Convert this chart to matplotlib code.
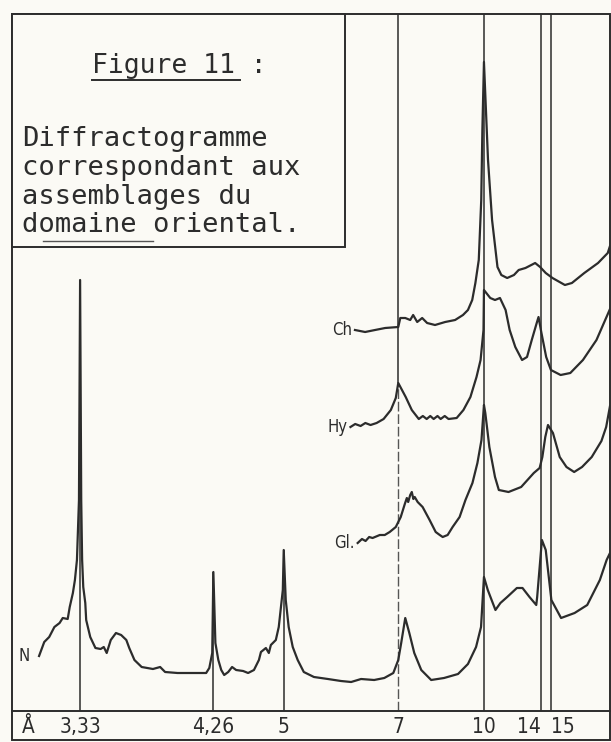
import numpy as np
import matplotlib
matplotlib.use("Agg")
import matplotlib.pyplot as plt
from matplotlib import font_manager, transforms
from matplotlib.patches import Rectangle
from matplotlib.lines import Line2D

W, H = 611, 742
PAPER = "#fbfaf5"
INK = "#2c2c2c"
WAVELENGTH = 1.5406  # Cu K-alpha, Angstrom

# reflections marked under the chart (Angstrom)
d_marks = [3.33, 4.26, 5, 7, 10, 14, 15]
d_labels = ["3,33", "4,26", "5", "7", "10", "14", "15"]
full_height = [False, False, False, True, True, True, True]

# diffractograms: 2-theta (deg) / intensity (arbitrary units, traces stacked)
n_theta = [28.57, 28.34, 28.12, 27.89, 27.66, 27.52, 27.30, 27.21, 27.07, 26.98, 26.89, 26.80,
           26.75, 26.70, 26.66, 26.61, 26.52, 26.48, 26.30, 26.07, 25.84, 25.70, 25.57, 25.39,
           25.16, 24.93, 24.70, 24.57, 24.34, 24.02, 23.52, 23.20, 22.98, 22.43, 21.70, 21.16,
           21.02, 20.89, 20.84, 20.75, 20.62, 20.49, 20.36, 20.18, 20.01, 19.83, 19.52, 19.30,
           19.04, 18.82, 18.73, 18.51, 18.38, 18.29, 18.07, 17.94, 17.76, 17.72, 17.63, 17.50,
           17.32, 17.10, 16.83, 16.38, 15.76, 15.18, 14.73, 14.29, 13.71, 13.26, 12.86, 12.64,
           12.51, 12.33, 12.15, 11.93, 11.62, 11.18, 10.61, 9.99, 9.55, 9.19, 8.97, 8.84,
           8.67, 8.33, 8.11, 7.81, 7.38, 7.13, 6.82, 6.52, 6.48, 6.27, 6.10, 5.85,
           5.42, 4.82, 4.26, 3.70, 3.40, 3.25]
n_int = [55, 69, 74, 84, 88, 93, 92, 104, 118, 131, 151, 211,
         431, 211, 151, 124, 108, 91, 74, 63, 62, 64, 58, 71,
         78, 76, 71, 63, 51, 44, 42, 44, 39, 38, 38, 38,
         43, 58, 139, 68, 51, 41, 36, 39, 44, 41, 40, 38,
         41, 51, 59, 63, 58, 66, 71, 84, 121, 161, 111, 84,
         64, 51, 39, 34, 32, 30, 29, 32, 31, 33, 38, 51,
         68, 93, 78, 58, 41, 31, 33, 37, 47, 64, 84, 134,
         121, 101, 108, 114, 123, 123, 114, 106, 114, 171, 161, 111,
         93, 98, 106, 131, 151, 158]

gl_theta = [14.44, 14.25, 14.09, 13.93, 13.78, 13.46, 13.24, 13.02, 12.75, 12.53, 12.35, 12.26,
            12.20, 12.11, 12.04, 11.97, 11.91, 11.78, 11.56, 11.25, 10.98, 10.80, 10.67, 10.45,
            10.23, 9.92, 9.66, 9.35, 9.13, 8.95, 8.84, 8.78, 8.60, 8.35, 8.18, 7.75,
            7.19, 6.63, 6.37, 6.25, 6.12, 6.00, 5.78, 5.48, 5.18, 4.84, 4.49, 4.06,
            3.63, 3.42, 3.25]
gl_int = [168, 172, 170, 174, 173, 176, 176, 179, 184, 194, 207, 213,
          209, 216, 219, 212, 214, 209, 204, 191, 179, 176, 174, 176,
          184, 194, 211, 228, 248, 271, 306, 298, 264, 234, 221, 219,
          224, 238, 243, 254, 274, 286, 278, 254, 244, 239, 244, 254,
          270, 284, 305]

hy_theta = [14.76, 14.55, 14.31, 14.10, 13.87, 13.60, 13.29, 12.97, 12.75, 12.64, 12.31, 12.04,
            11.73, 11.55, 11.38, 11.22, 11.07, 10.90, 10.76, 10.58, 10.41, 10.05, 9.75, 9.44,
            9.17, 8.99, 8.86, 8.84, 8.56, 8.35, 8.13, 7.88, 7.70, 7.45, 7.15, 6.93,
            6.72, 6.50, 6.42, 6.29, 6.08, 5.87, 5.44, 5.01, 4.45, 3.85, 3.25]
hy_int = [284, 287, 285, 288, 286, 288, 292, 301, 313, 328, 314, 301,
          292, 295, 292, 295, 292, 295, 292, 295, 292, 293, 301, 314,
          334, 351, 381, 421, 413, 411, 413, 401, 381, 364, 351, 354,
          371, 388, 394, 378, 354, 341, 336, 338, 351, 371, 402]

ch_theta = [14.56, 14.11, 13.67, 13.22, 12.64, 12.55, 12.33, 12.11, 11.98, 11.80, 11.58, 11.36,
            11.01, 10.56, 10.12, 9.77, 9.55, 9.36, 9.22, 9.07, 8.96, 8.91, 8.84, 8.66,
            8.48, 8.24, 8.07, 7.81, 7.51, 7.30, 7.00, 6.74, 6.57, 6.35, 6.10,
            5.80, 5.25, 4.94, 4.39, 3.78, 3.35, 3.25]
ch_int = [381, 379, 381, 383, 384, 393, 393, 391, 396, 389, 393, 388,
          386, 389, 391, 396, 401, 411, 428, 451, 511, 581, 649, 551,
          491, 444, 436, 433, 436, 441, 443, 446, 448, 444, 438,
          433, 426, 428, 438, 448, 458, 465]

trace_names = ["N", "Gl.", "Hy", "Ch"]
label_gap = [-7, -2, -2, -2]  # points between label and start of trace

caption_title = "Figure 11 :"
caption_lines = ["Diffractogramme", "correspondant aux", "assemblages du", "domaine oriental."]


def two_theta(d):
    return 2 * np.degrees(np.arcsin(WAVELENGTH / (2 * np.asarray(d, dtype=float))))


def fx(px):
    return px / W


def fy(py):
    return 1 - py / H


# hand lettering: narrow sans if available
available = {f.name for f in font_manager.fontManager.ttflist}
HAND = "Liberation Sans Narrow" if "Liberation Sans Narrow" in available else "DejaVu Sans"

plt.rcParams["font.family"] = ["DejaVu Sans"]
fig = plt.figure(figsize=(W / 100, H / 100), dpi=100, facecolor=PAPER)
ax = fig.add_axes([fx(12), 1 - 711 / H, 598 / W, 697 / H])
ax.set_facecolor(PAPER)
ax.set_xlim(29.77, 3.25)
ax.set_ylim(0, 697)
for side in ["top", "left", "right"]:
    ax.spines[side].set_visible(False)
ax.spines["bottom"].set_color(INK)
ax.spines["bottom"].set_linewidth(1.4)
ax.set_yticks([])
ax.set_xticks([])

traces = [(n_theta, n_int), (gl_theta, gl_int), (hy_theta, hy_int), (ch_theta, ch_int)]
for (th, inten), name, gap in zip(traces, trace_names, label_gap):
    ax.plot(th, inten, color=INK, lw=1.6, solid_joinstyle="round", zorder=3)
    ax.annotate(name, (th[0], inten[0]), xytext=(gap, 0), textcoords="offset points",
                ha="right", va="center", fontsize=12, family=HAND, fontstretch="condensed",
                color=INK, zorder=4)

# reflection lines
tt_marks = two_theta(d_marks)
n_th = np.array(n_theta)
n_in = np.array(n_int)
hy_7 = max(i for t, i in zip(hy_theta, hy_int) if abs(t - tt_marks[3]) < 0.15)
for t, full in zip(tt_marks, full_height):
    if full:
        if abs(t - tt_marks[3]) < 1e-6:
            ax.vlines(t, hy_7, 697, color=INK, lw=1.1, zorder=2)
            ax.vlines(t, 0, hy_7, color=INK, lw=1.0, linestyles=(0, (7, 2)), alpha=0.8, zorder=2)
        else:
            ax.vlines(t, 0, 697, color=INK, lw=1.1, zorder=2)
    else:
        top = n_in[np.abs(n_th - t) < 0.15].max()
        ax.vlines(t, 0, top, color=INK, lw=1.1, zorder=2)

# d-spacing labels under the baseline
lab_tr = transforms.blended_transform_factory(ax.transData, fig.transFigure)
label_ha = ["center", "center", "center", "center", "center", "right", "left"]
for t, lab, ha in zip(tt_marks, d_labels, label_ha):
    ax.text(t, fy(733), lab, transform=lab_tr, ha=ha, va="baseline", fontsize=15,
            family=HAND, fontstretch="condensed", color=INK, clip_on=False)
fig.text(fx(28), fy(733), "Å", ha="center", va="baseline", fontsize=15,
         family=HAND, fontstretch="condensed", color=INK)

# outer frame
fig.add_artist(Rectangle((fx(12), fy(740)), 598 / W, 726 / H, transform=fig.transFigure,
                         fill=False, edgecolor=INK, lw=1.4, zorder=5))

# caption box
fig.add_artist(Rectangle((fx(12), fy(247)), 333 / W, 233 / H, transform=fig.transFigure,
                         facecolor=PAPER, edgecolor=INK, lw=1.4, zorder=5))
fig.text(fx(92), fy(73), caption_title, ha="left", va="baseline", fontsize=19,
         family="DejaVu Sans Mono", color=INK, zorder=6)
fig.add_artist(Line2D([fx(92), fx(240)], [fy(80), fy(80)], transform=fig.transFigure,
                      color=INK, lw=1.4, zorder=6))
for k, line in enumerate(caption_lines):
    fig.text(fx(22), fy(146 + 28.8 * k), line, ha="left", va="baseline", fontsize=19.5,
             family="DejaVu Sans Mono", color=INK, zorder=6)
# short rule under the last caption line
fig.add_artist(Line2D([fx(43), fx(153)], [fy(240.5), fy(240.5)], transform=fig.transFigure,
                      color="#555555", lw=1.0, zorder=6))

fig.savefig("out.png", dpi=100, facecolor=PAPER)
